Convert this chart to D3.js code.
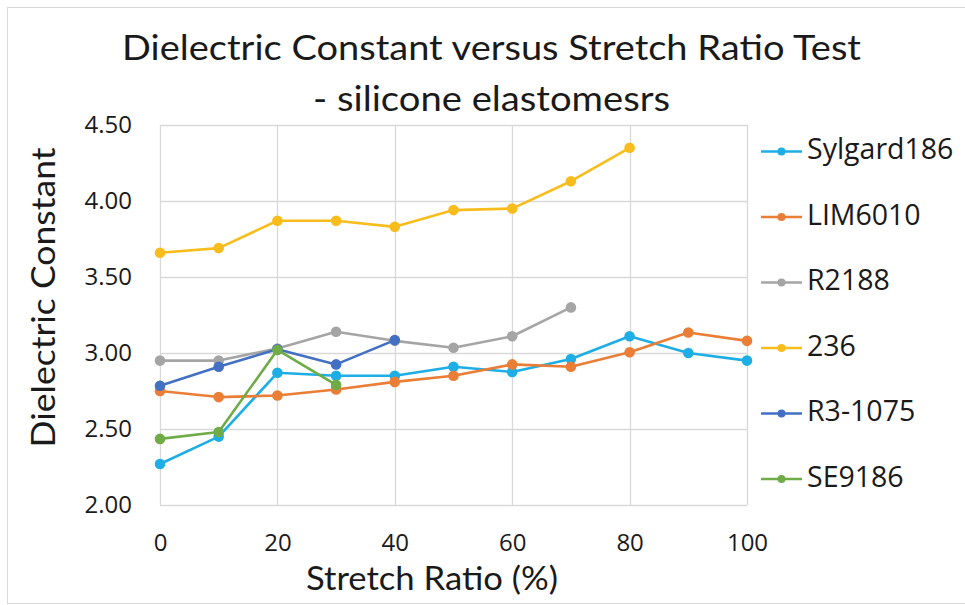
<!DOCTYPE html>
<html>
<head>
<meta charset="utf-8">
<script src="https://cdn.jsdelivr.net/npm/d3@7"></script>
<style>
  html, body { margin: 0; padding: 0; background: #fff; }
  svg { display: block; }
</style>
</head>
<body>
<svg id="chart" width="965" height="605"></svg>
<script>
const stretch = [0, 10, 20, 30, 40, 50, 60, 70, 80, 90, 100];
const seriesNames = ["Sylgard186", "LIM6010", "R2188", "236", "R3-1075", "SE9186"];
const seriesColors = ["#1eaee6", "#ea7e36", "#a5a5a5", "#f8bd1c", "#4470c3", "#6fab46"];
const sylgard186 = [2.27, 2.45, 2.87, 2.85, 2.85, 2.91, 2.875, 2.96, 3.11, 3.00, 2.95];
const lim6010 = [2.75, 2.71, 2.72, 2.76, 2.81, 2.85, 2.925, 2.91, 3.005, 3.135, 3.08];
const r2188 = [2.95, 2.95, 3.03, 3.14, 3.08, 3.035, 3.11, 3.30];
const s236 = [3.66, 3.69, 3.87, 3.87, 3.83, 3.94, 3.95, 4.13, 4.35];
const r31075 = [2.785, 2.91, 3.025, 2.925, 3.085];
const se9186 = [2.435, 2.48, 3.02, 2.79];
const seriesValues = [sylgard186, lim6010, r2188, s236, r31075, se9186];
const xTicks = [0, 20, 40, 60, 80, 100];
const yTicks = [2.0, 2.5, 3.0, 3.5, 4.0, 4.5];
const titleLines = ["Dielectric Constant versus Stretch Ratio Test", "- silicone elastomesrs"];
const xTitle = "Stretch Ratio (%)";
const yTitle = "Dielectric Constant";

const svg = d3.select("#chart");
const grid = "#d9d9d9";
const tickFont = "'Open Sans', 'Noto Sans', sans-serif";
const titleFont = "Lato, 'Open Sans', sans-serif";

// outer frame
svg.append("rect").attr("x", 7.5).attr("y", 7.5).attr("width", 1000).attr("height", 596)
  .attr("fill", "#fff").attr("stroke", grid).attr("stroke-width", 1);

const x = d3.scaleLinear().domain([0, 100]).range([160, 747]);
const y = d3.scaleLinear().domain([2.0, 4.5]).range([505, 125]);

// gridlines
const g = svg.append("g");
g.selectAll("line.h").data(yTicks).join("line")
  .attr("x1", x(0)).attr("x2", x(100))
  .attr("y1", d => Math.round(y(d)) + 0.5).attr("y2", d => Math.round(y(d)) + 0.5)
  .attr("stroke", grid).attr("stroke-width", 1.3);
g.selectAll("line.v").data(xTicks).join("line")
  .attr("y1", y(4.5)).attr("y2", y(2.0))
  .attr("x1", d => Math.round(x(d)) + 0.5).attr("x2", d => Math.round(x(d)) + 0.5)
  .attr("stroke", grid).attr("stroke-width", 1.3);

// axes (labels)
const xAxis = svg.append("g").attr("transform", `translate(0,${y(2.0)})`)
  .call(d3.axisBottom(x).tickValues(xTicks).tickSize(0).tickPadding(29).tickFormat(d3.format("d")));
xAxis.select(".domain").remove();
xAxis.selectAll("text").attr("font-family", tickFont).attr("font-size", 24).attr("fill", "#1a1a1a");

const yAxis = svg.append("g").attr("transform", `translate(${x(0)},0)`)
  .call(d3.axisLeft(y).tickValues(yTicks).tickSize(0).tickPadding(28).tickFormat(d3.format(".2f")));
yAxis.select(".domain").remove();
yAxis.selectAll("text").attr("font-family", tickFont).attr("font-size", 24).attr("fill", "#1a1a1a");

// series
const line = d3.line().x((d, i) => x(stretch[i])).y(d => y(d));
seriesValues.forEach((vals, si) => {
  const sg = svg.append("g");
  sg.append("path").attr("d", line(vals)).attr("fill", "none")
    .attr("stroke", seriesColors[si]).attr("stroke-width", 2.6).attr("stroke-linejoin", "round");
  sg.selectAll("circle").data(vals).join("circle")
    .attr("cx", (d, i) => x(stretch[i])).attr("cy", d => y(d)).attr("r", 5.3)
    .attr("fill", seriesColors[si]);
});

// legend
const legend = svg.append("g");
seriesNames.forEach((name, i) => {
  const ly = 151.5 + i * 65.5;
  legend.append("line").attr("x1", 761).attr("x2", 802).attr("y1", ly).attr("y2", ly)
    .attr("stroke", seriesColors[i]).attr("stroke-width", 2.6);
  legend.append("circle").attr("cx", 781.5).attr("cy", ly).attr("r", 4).attr("fill", seriesColors[i]);
  legend.append("text").attr("x", 807).attr("y", ly + 7.5).text(name)
    .attr("font-family", tickFont).attr("font-size", 28.5).attr("fill", "#1a1a1a");
});

// titles
svg.append("text").attr("x", 491.5).attr("y", 59.5).attr("text-anchor", "middle")
  .attr("font-family", titleFont).attr("font-size", 35).attr("fill", "#1a1a1a")
  .attr("textLength", 739).attr("lengthAdjust", "spacingAndGlyphs").text(titleLines[0]);
svg.append("text").attr("x", 491.5).attr("y", 110.5).attr("text-anchor", "middle")
  .attr("font-family", titleFont).attr("font-size", 35).attr("fill", "#1a1a1a")
  .attr("textLength", 357).attr("lengthAdjust", "spacingAndGlyphs").text(titleLines[1]);

svg.append("text").attr("x", 432).attr("y", 590).attr("text-anchor", "middle")
  .attr("font-family", titleFont).attr("font-size", 32).attr("fill", "#1a1a1a")
  .attr("textLength", 252).attr("lengthAdjust", "spacingAndGlyphs").text(xTitle);

svg.append("text").attr("transform", "translate(55,297.5) rotate(-90)").attr("text-anchor", "middle")
  .attr("font-family", titleFont).attr("font-size", 33).attr("fill", "#1a1a1a")
  .attr("textLength", 300).attr("lengthAdjust", "spacingAndGlyphs").text(yTitle);
</script>
</body>
</html>
